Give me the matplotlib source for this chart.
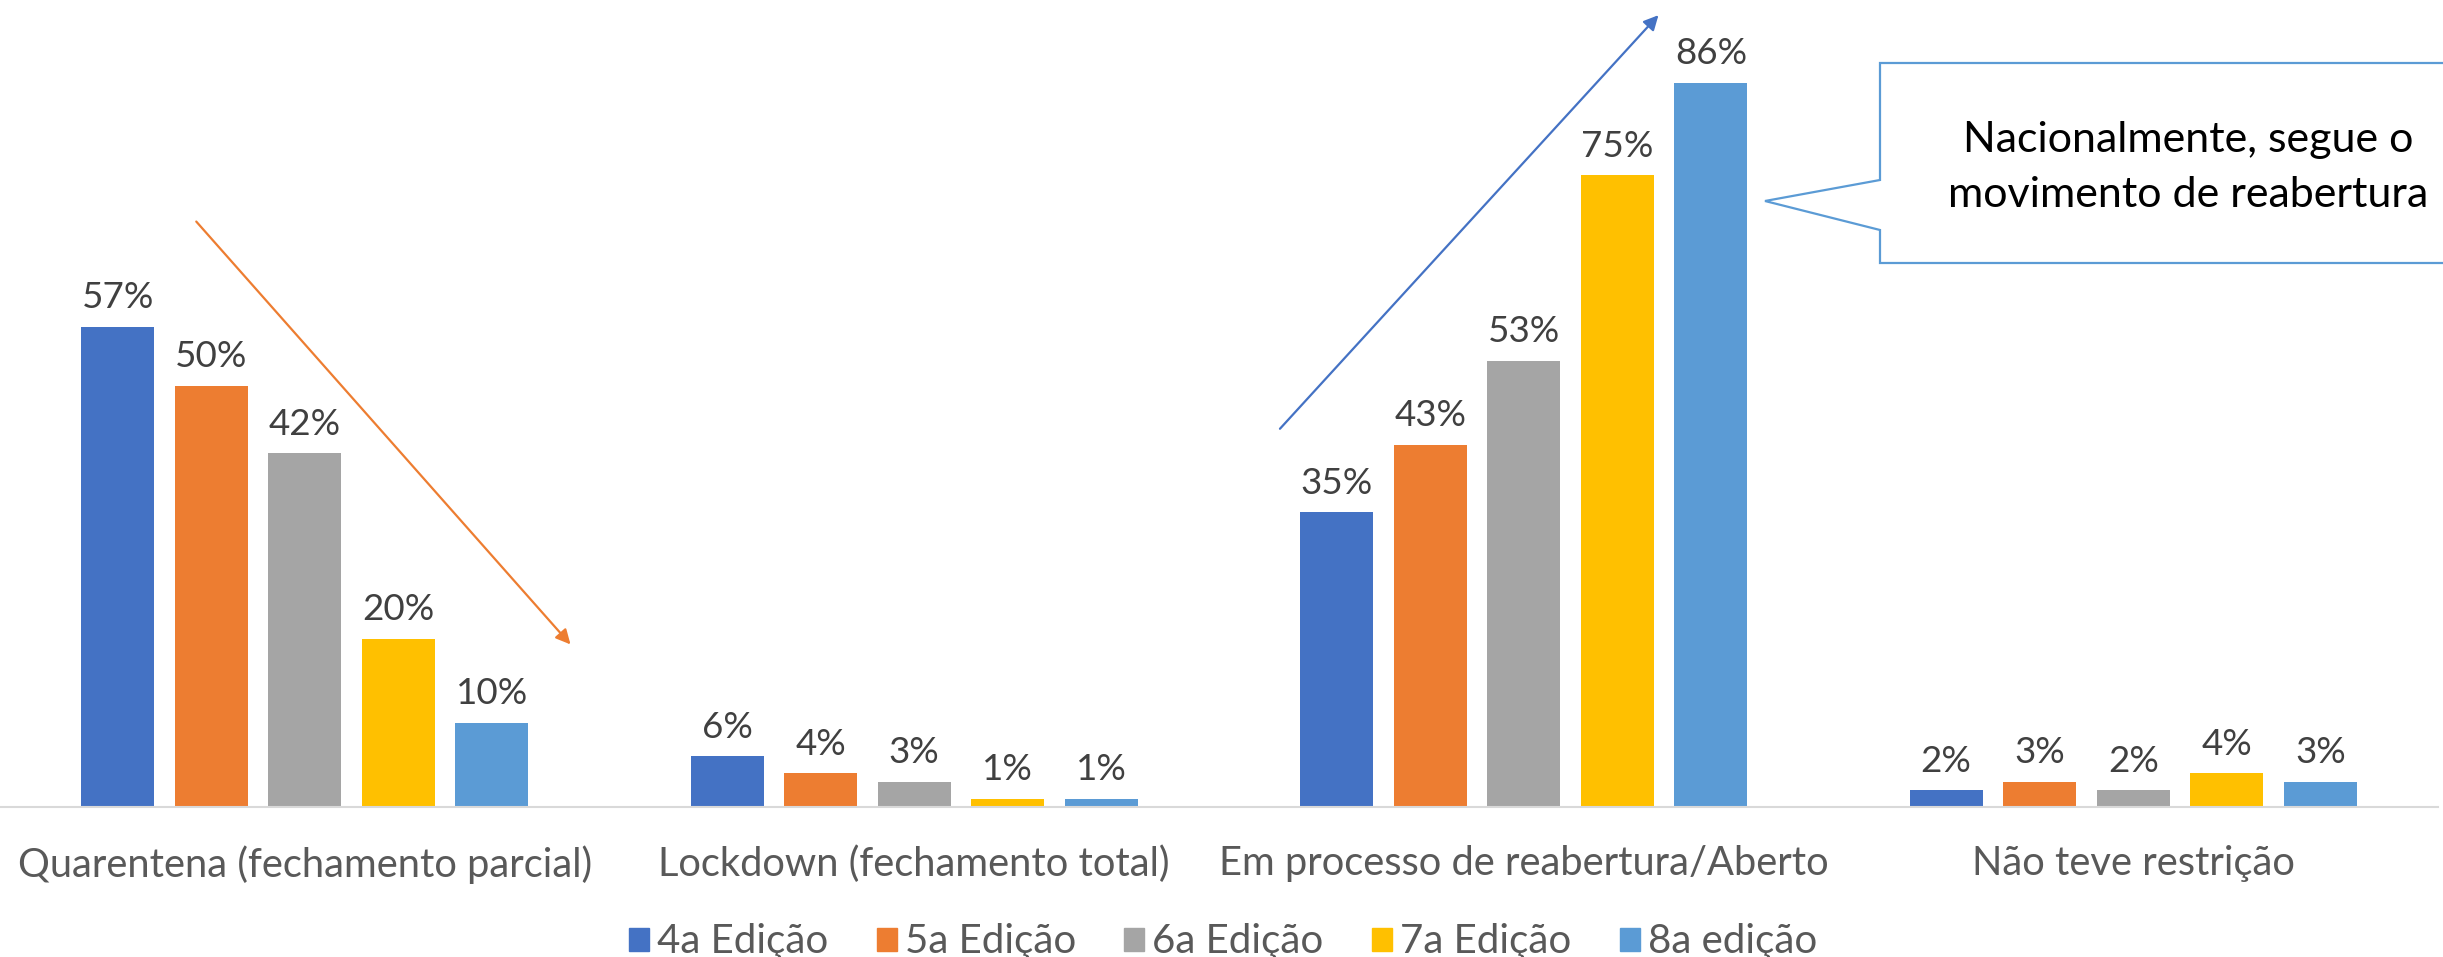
import numpy as np
import matplotlib
matplotlib.use("Agg")
import matplotlib.pyplot as plt
from matplotlib.patches import Polygon, Patch

plt.rcParams['font.family'] = ['Lato', 'DejaVu Sans']

# dados
categorias = ['Quarentena (fechamento parcial)', 'Lockdown (fechamento total)',
              'Em processo de reabertura/Aberto', 'Não teve restrição']
edicoes = ['4a Edição', '5a Edição', '6a Edição', '7a Edição', '8a edição']
ed4 = [57, 6, 35, 2]
ed5 = [50, 4, 43, 3]
ed6 = [42, 3, 53, 2]
ed7 = [20, 1, 75, 4]
ed8 = [10, 1, 86, 3]
series = [ed4, ed5, ed6, ed7, ed8]
cores = ['#4472C4', '#ED7D31', '#A5A5A5', '#FFC000', '#5B9BD5']

W, H = 2443, 957
fig = plt.figure(figsize=(W / 100, H / 100), dpi=100)
ax = fig.add_axes([0.0, 150 / H, 2438 / W, 1 - 150 / H])

x = np.arange(len(categorias))
largura = 0.12
passo = 0.1535
for i, (vals, cor) in enumerate(zip(series, cores)):
    pos = x + (i - 2) * passo
    bars = ax.bar(pos, vals, width=largura, color=cor, label=edicoes[i], zorder=2)
    for b, v in zip(bars, vals):
        ax.annotate(f'{v}%', (b.get_x() + b.get_width() / 2, v),
                    xytext=(0, 9), textcoords='offset points',
                    ha='center', va='bottom', fontsize=26.5, color='#404040')

ax.set_xlim(-0.5, 3.5)
ax.set_ylim(0, 95.8)
ax.set_yticks([])
ax.set_xticks(x)
ax.set_xticklabels(categorias, fontsize=28.7, color='#595959')
ax.tick_params(axis='x', length=0, pad=27.5)
for s in ['top', 'left', 'right']:
    ax.spines[s].set_visible(False)
ax.spines['bottom'].set_color('#D9D9D9')
ax.spines['bottom'].set_linewidth(1.5)

# setas de tendencia
ax.annotate('', xy=(0.436, 19.3), xytext=(-0.178, 69.5),
            arrowprops=dict(arrowstyle='-|>', color='#ED7D31', lw=1.6,
                            mutation_scale=22, shrinkA=0, shrinkB=0))
ax.annotate('', xy=(2.221, 94.0), xytext=(1.600, 44.9),
            arrowprops=dict(arrowstyle='-|>', color='#4472C4', lw=1.6,
                            mutation_scale=22, shrinkA=0, shrinkB=0))

# balao de texto
pts = [(1880, 63), (2600, 63), (2600, 263), (1880, 263), (1880, 230),
       (1765, 201), (1880, 180)]
pts = [(px / W, 1 - py / H) for px, py in pts]
fig.patches.append(Polygon(pts, closed=True, transform=fig.transFigure,
                           facecolor='white', edgecolor='#5B9BD5', lw=1.6,
                           zorder=5, clip_on=False))
fig.text(2188 / W, 1 - 152 / H, 'Nacionalmente, segue o', ha='center',
         va='baseline', fontsize=31, color='black', zorder=6)
fig.text(2188 / W, 1 - 207 / H, 'movimento de reabertura', ha='center',
         va='baseline', fontsize=31, color='black', zorder=6)

# legenda
handles = [Patch(color=c) for c in cores]
fig.legend(handles, edicoes, loc='center', bbox_to_anchor=(1223 / W, 1 - 942 / H),
           ncol=5, frameon=False, fontsize=29, handlelength=0.5, handleheight=0.5,
           handletextpad=0.2, columnspacing=1.2, labelcolor='#595959')

fig.savefig('out.png', dpi=100)
